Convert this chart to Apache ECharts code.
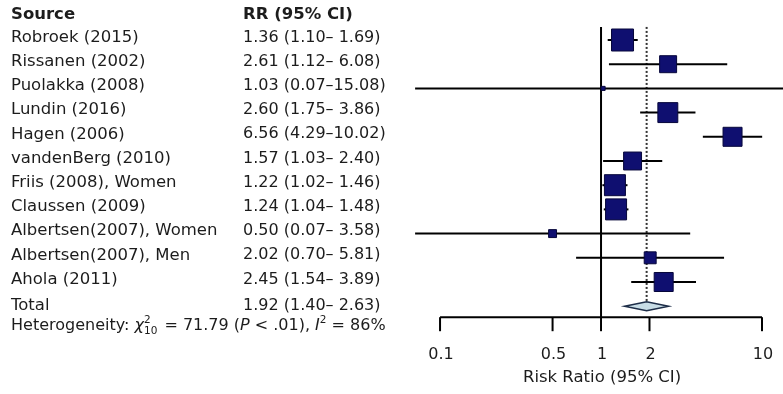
<!DOCTYPE html>
<html>
<head>
<meta charset="utf-8">
<script src="https://cdn.jsdelivr.net/npm/echarts@6/dist/echarts.min.js"></script>
<style>
  html, body { margin: 0; padding: 0; background: #fff; }
  #chart { width: 783px; height: 394px; }
</style>
</head>
<body>
<div id="chart"></div>
<script>
// Meta-analysis of risk ratios: study estimates with 95% confidence intervals
const studies = [
  'Robroek (2015)', 'Rissanen (2002)', 'Puolakka (2008)', 'Lundin (2016)',
  'Hagen (2006)', 'vandenBerg (2010)', 'Friis (2008), Women', 'Claussen (2009)',
  'Albertsen(2007), Women', 'Albertsen(2007), Men', 'Ahola (2011)'
];
const rr    = [1.36, 2.61, 1.03, 2.60, 6.56, 1.57, 1.22, 1.24, 0.50, 2.02, 2.45];
const lower = [1.10, 1.12, 0.07, 1.75, 4.29, 1.03, 1.02, 1.04, 0.07, 0.70, 1.54];
const upper = [1.69, 6.08, 15.08, 3.86, 10.02, 2.40, 1.46, 1.48, 3.58, 5.81, 3.89];
// relative study weights (%)
const weights = [14.6, 8.7, 0.5, 12.0, 10.9, 9.7, 13.3, 13.3, 1.9, 4.3, 10.9];

const totalLabel = 'Total';
const totalRR = 1.92;
const totalLower = 1.40;
const totalUpper = 2.63;

const tickValues = [0.1, 0.5, 1, 2, 10];
const tickLabels = ['0.1', '0.5', '1', '2', '10'];
const axisTitle = 'Risk Ratio (95% CI)';
const headers = ['Source', 'RR (95% CI)'];

const FAMILY = '"DejaVu Sans", sans-serif';
const INK = '#1c1c1c';
const BOX = '#0f0f70';
const nRows = studies.length;          // index of the pooled row
const wMax = Math.max(...weights);
const BOX_MAX = 22;

const fmt = v => v.toFixed(2);
const ciText = (r, l, u) => fmt(r) + ' (' + fmt(l) + '–' + (u < 10 ? ' ' : '') + fmt(u) + ')';

const measure = (() => {
  const ctx = document.createElement('canvas').getContext('2d');
  return (t, size, style) => {
    ctx.font = (style || 'normal') + ' ' + size + 'px ' + FAMILY;
    return ctx.measureText(t).width;
  };
})();

function txt(text, x, y, opts) {
  opts = opts || {};
  return {
    type: 'text',
    style: {
      text: text, x: x, y: y,
      fill: opts.fill || INK,
      fontSize: opts.size || 16,
      fontFamily: FAMILY,
      fontWeight: opts.weight || 'normal',
      fontStyle: opts.style || 'normal',
      align: opts.align || 'left',
      verticalAlign: 'middle'
    }
  };
}

const chart = echarts.init(document.getElementById('chart'), null, { renderer: 'canvas' });

const option = {
  backgroundColor: '#ffffff',
  animation: false,
  grid: { left: 400, right: 0, top: 3.7, height: 387.2 },
  xAxis: {
    type: 'log', logBase: 10, min: 0.0564, max: 13.5,
    show: false
  },
  yAxis: {
    type: 'value', inverse: true, min: -1.5, max: 14.5,
    show: false
  },
  series: [
    // reference lines: no effect (RR = 1) and pooled estimate
    {
      type: 'custom',
      data: [[0]],
      z: 1,
      renderItem: function (params, api) {
        const top = api.coord([1, -0.54]);
        const bottom = api.coord([1, nRows]);
        const axisY = bottom[1] + 11;
        const p = api.coord([totalRR, -0.54]);
        const pb = api.coord([totalRR, nRows - 0.15]);
        return {
          type: 'group',
          children: [
            { type: 'line', shape: { x1: top[0], y1: top[1], x2: top[0], y2: axisY }, style: { stroke: '#000', lineWidth: 2 } },
            { type: 'line', shape: { x1: p[0], y1: p[1], x2: p[0], y2: pb[1] }, style: { stroke: '#333', lineWidth: 2, lineDash: [2, 2] } }
          ]
        };
      }
    },
    // study estimates with confidence intervals
    {
      type: 'custom',
      z: 2,
      data: studies.map((s, i) => [rr[i], lower[i], upper[i], i, weights[i]]),
      renderItem: function (params, api) {
        const row = api.value(3);
        const c = api.coord([api.value(0), row]);
        const l = api.coord([api.value(1), row]);
        const u = api.coord([api.value(2), row]);
        const s = BOX_MAX * Math.sqrt(api.value(4) / wMax);
        return {
          type: 'group',
          children: [
            { type: 'line', shape: { x1: l[0], y1: l[1], x2: u[0], y2: u[1] }, style: { stroke: '#000', lineWidth: 2 } },
            { type: 'rect', shape: { x: c[0] - s / 2, y: c[1] - s / 2, width: s, height: s }, style: { fill: BOX, stroke: '#06063a', lineWidth: 1 } }
          ]
        };
      }
    },
    // pooled estimate diamond
    {
      type: 'custom',
      z: 3,
      data: [[totalRR, totalLower, totalUpper, nRows]],
      renderItem: function (params, api) {
        const row = api.value(3);
        const c = api.coord([api.value(0), row]);
        const l = api.coord([api.value(1), row]);
        const u = api.coord([api.value(2), row]);
        const h = 4.5;
        return {
          type: 'polygon',
          shape: { points: [[l[0], l[1]], [c[0], c[1] - h], [u[0], u[1]], [c[0], c[1] + h]] },
          style: { fill: '#c8dde6', stroke: '#1d2d48', lineWidth: 1.5 }
        };
      }
    },
    // x axis with ticks and labels
    {
      type: 'custom',
      z: 3,
      data: [[0]],
      renderItem: function (params, api) {
        const y = api.coord([1, nRows])[1] + 11;
        const a = api.coord([tickValues[0], nRows]);
        const b = api.coord([tickValues[tickValues.length - 1], nRows]);
        const children = [
          { type: 'line', shape: { x1: a[0], y1: y, x2: b[0], y2: y }, style: { stroke: '#000', lineWidth: 2 } }
        ];
        tickValues.forEach((v, k) => {
          const x = api.coord([v, nRows])[0];
          children.push({ type: 'line', shape: { x1: x, y1: y, x2: x, y2: y + 14 }, style: { stroke: '#000', lineWidth: 2 } });
          children.push(txt(tickLabels[k], x + 1, y + 38, { align: 'center' }));
        });
        const cx = api.coord([1, nRows])[0];
        children.push(txt(axisTitle, cx + 1, y + 61, { align: 'center', size: 16.5 }));
        return { type: 'group', children: children };
      }
    },
    // table text: study names, estimates and heterogeneity statistics
    {
      type: 'custom',
      z: 4,
      data: [[0]],
      renderItem: function (params, api) {
        const rowY = r => api.coord([1, r])[1];
        const xName = 11, xCI = 243;
        const children = [
          txt(headers[0], xName, rowY(-1) - 1, { weight: 'bold', size: 16.5 }),
          txt(headers[1], xCI, rowY(-1) - 1, { weight: 'bold', size: 16.5 })
        ];
        studies.forEach((s, i) => {
          children.push(txt(s, xName, rowY(i) - 2.5, { size: 16.5 }));
          children.push(txt(ciText(rr[i], lower[i], upper[i]), xCI, rowY(i) - 2.5));
        });
        children.push(txt(totalLabel, xName, rowY(nRows), { size: 16.5 }));
        children.push(txt(ciText(totalRR, totalLower, totalUpper), xCI, rowY(nRows)));

        // heterogeneity line with chi-square sub/superscripts
        const fs = 16, ss = 10.5;
        const y = rowY(nRows) + 20;
        let x = xName;
        const put = (t, size, style, dy, advance) => {
          children.push(txt(t, x, y + dy, { size: size, style: style }));
          const w = measure(t, size, style);
          if (advance !== false) x += w;
          return w;
        };
        put('Heterogeneity: ', fs, 'normal', 0);
        put('χ', fs, 'italic', 0);
        const w2 = put('2', ss, 'normal', -6, false);
        const w10 = measure('10', ss, 'normal');
        put('10', ss, 'normal', 5, false);
        x += Math.max(w2, w10) + 2;
        put(' = 71.79 (', fs, 'normal', 0);
        put('P', fs, 'italic', 0);
        put(' < .01), ', fs, 'normal', 0);
        put('I', fs, 'italic', 0);
        put('2', ss, 'normal', -6);
        put(' = 86%', fs, 'normal', 0);
        return { type: 'group', children: children };
      }
    }
  ]
};

chart.setOption(option);
</script>
</body>
</html>
